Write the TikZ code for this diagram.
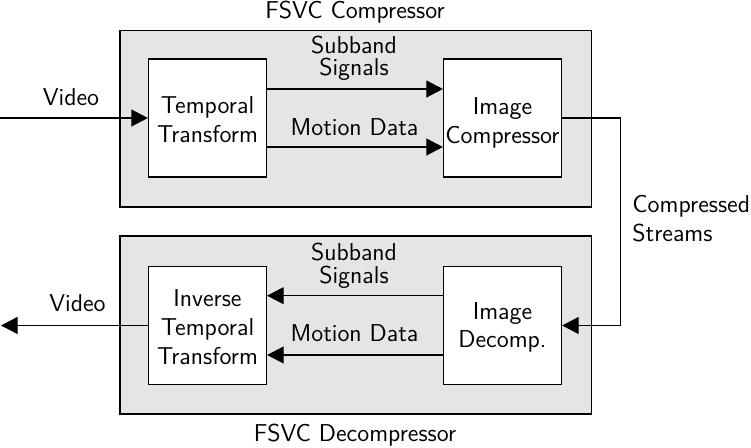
\documentclass[tikz,border=0pt]{standalone}
\usetikzlibrary{arrows.meta}
\begin{document}
\begin{tikzpicture}[x=0.5pt,y=-0.5pt,
  font=\sffamily\fontsize{12.2}{14.4}\selectfont,
  every node/.style={inner sep=0pt},
  outerbox/.style={draw, line width=0.6pt, fill=black!10},
  block/.style={draw, line width=0.6pt, fill=white, minimum width=59pt, minimum height=59pt, align=center, text depth=0pt},
  lbl/.style={anchor=base, align=center},
  tight/.style={font=\sffamily\fontsize{12.2}{11.4}\selectfont},
  arr/.style={line width=0.6pt, -{Triangle[length=8.3pt,width=8.5pt]}}]
\useasboundingbox (0,0) rectangle (751,448);
% outer boxes
\node[outerbox, minimum width=235.75pt, minimum height=88.25pt] (comp) at (355.75,118.75) {};
\node[outerbox, minimum width=235.75pt, minimum height=89pt] (decomp) at (355.75,325) {};
% titles
\node[lbl] (t1) at (355,18.5) {FSVC Compressor};
\node[lbl] (t2) at (355,441.7) {FSVC Decompressor};
% blocks
\node[block, text height=24.7pt] (tt) at (207.5,118) {Temporal\\Transform};
\node[block, text height=25.2pt] (ic) at (502.5,118) {Image\\Compressor};
\node[block, text height=38.8pt] (itt) at (207.5,325.5) {Inverse\\Temporal\\Transform};
\node[block, text height=22.5pt] (id) at (502.5,325.5) {Image\\Decomp.};
% labels
\node[lbl, tight] (sb1) at (354,76) {Subband\\Signals};
\node[lbl] (md1) at (354.5,136) {Motion Data};
\node[lbl] (v1) at (71,106) {Video};
\node[lbl, tight] (sb2) at (354,283.3) {Subband\\Signals};
\node[lbl] (md2) at (354.5,341.7) {Motion Data};
\node[lbl] (v2) at (77.5,311.7) {Video};
\node[anchor=base west, align=left] (cs) at (632,241.7) {Compressed\\Streams};
% connectors
\coordinate (vin) at (0,118);
\coordinate (vout) at (1,325.5);
\draw[arr] (vin) -- (tt.west);
\draw[arr] ([yshift=14.5pt]tt.east) -- ([yshift=14.5pt]ic.west);
\draw[arr] ([yshift=-14.5pt]tt.east) -- ([yshift=-14.5pt]ic.west);
\draw[arr] (ic.east) -- ++(58,0) |- (id.east);
\draw[arr] ([yshift=14.9pt]id.west) -- ([yshift=14.9pt]itt.east);
\draw[arr] ([yshift=-14.75pt]id.west) -- ([yshift=-14.75pt]itt.east);
\draw[arr] (itt.west) -- (vout);
\end{tikzpicture}
\end{document}
